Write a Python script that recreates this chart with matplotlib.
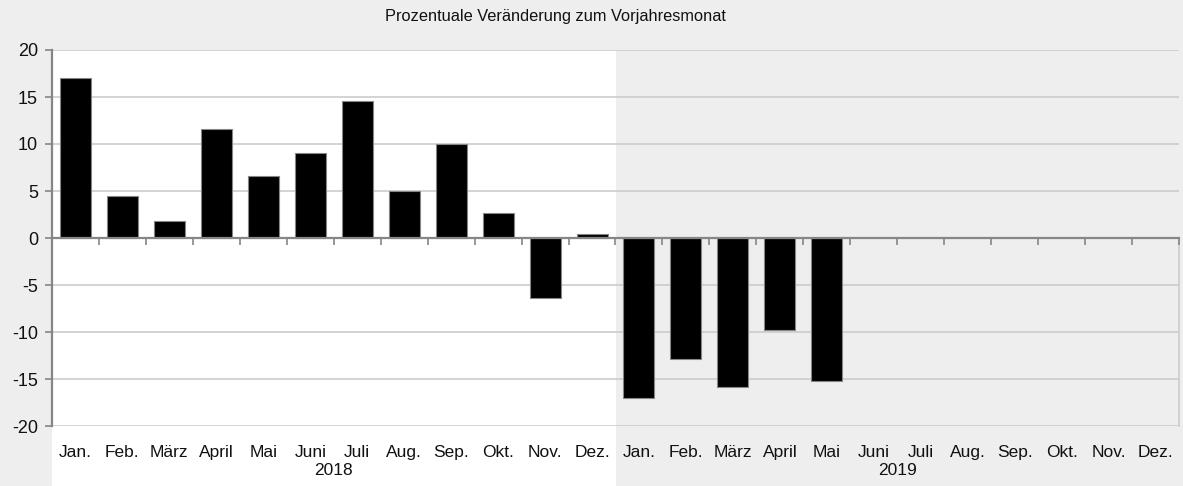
import matplotlib
matplotlib.use("Agg")
import matplotlib.pyplot as plt
from matplotlib.patches import Rectangle
import matplotlib.transforms as mtransforms
import numpy as np

plt.rcParams['font.family'] = ['Liberation Sans', 'DejaVu Sans']

months = ["Jan.", "Feb.", "März", "April", "Mai", "Juni", "Juli", "Aug.", "Sep.", "Okt.", "Nov.", "Dez."]
years = ["2018", "2019"]
values_2018 = [17.0, 4.5, 1.85, 11.55, 6.6, 9.0, 14.6, 4.95, 9.95, 2.7, -6.35, 0.4]
values_2019 = [-17.05, -12.85, -15.85, -9.75, -15.25]
title = "Prozentuale Veränderung zum Vorjahresmonat"
yticks = [-20, -15, -10, -5, 0, 5, 10, 15, 20]

bg = "#eeeeee"
grid_c = "#cccccc"
axis_c = "#868686"
txt_c = "#111111"

labels = months + months
vals = values_2018 + values_2019
n = len(labels)
x = np.arange(len(vals))

fig = plt.figure(figsize=(11.83, 4.86), dpi=100, facecolor=bg)
ax = fig.add_axes([52/1183, 60/486, (1179-52)/1183, (426-50)/486])
ax.set_facecolor("none")

ax.set_xlim(-0.5, n - 0.5)
ax.set_ylim(-20, 20)

# white region for 2018
trans = mtransforms.blended_transform_factory(ax.transData, ax.transAxes)
ax.add_patch(Rectangle((-0.5, -0.3), 12, 1.3, transform=trans, facecolor="white",
                       edgecolor="none", zorder=0, clip_on=False))

# gridlines
for yv in yticks:
    if yv != 0:
        ax.axhline(yv, color=grid_c, lw=1.2, zorder=1)
ax.plot([n - 0.5, n - 0.5], [-20, 0], color=grid_c, lw=1.2, zorder=1, clip_on=False)

ax.bar(x, vals, width=0.66, color="black", edgecolor=axis_c, linewidth=0.8, zorder=3)

# spines
for s in ["top", "right"]:
    ax.spines[s].set_visible(False)
ax.spines["bottom"].set_position(("data", 0))
ax.spines["bottom"].set_color(axis_c)
ax.spines["bottom"].set_linewidth(1.6)
ax.spines["bottom"].set_zorder(4)
ax.spines["left"].set_color(axis_c)
ax.spines["left"].set_linewidth(1.6)

ax.set_xticks(np.arange(-0.5, n, 1.0))
ax.set_xticklabels([])
ax.tick_params(axis="x", direction="out", length=5, width=1.2, color=axis_c)
ax.set_yticks(yticks)
ax.set_yticklabels([str(v) for v in yticks], fontsize=13, color=txt_c)
ax.tick_params(axis="y", direction="out", length=5, width=1.2, color=axis_c, pad=5)

xt = ax.get_xaxis_transform()
for i, lab in enumerate(labels):
    ax.text(i, -26/376, lab, transform=xt, ha="center", va="center", fontsize=12.5, color=txt_c)
for j, yr in enumerate(years):
    ax.text(j * 12 + 5.5, -44/376, yr, transform=xt, ha="center", va="center", fontsize=12.5, color=txt_c)

fig.text(555/1183, 1 - 16/486, title, ha="center", va="center", fontsize=11.8, color=txt_c)

fig.savefig("out.png", dpi=100, facecolor=bg)
